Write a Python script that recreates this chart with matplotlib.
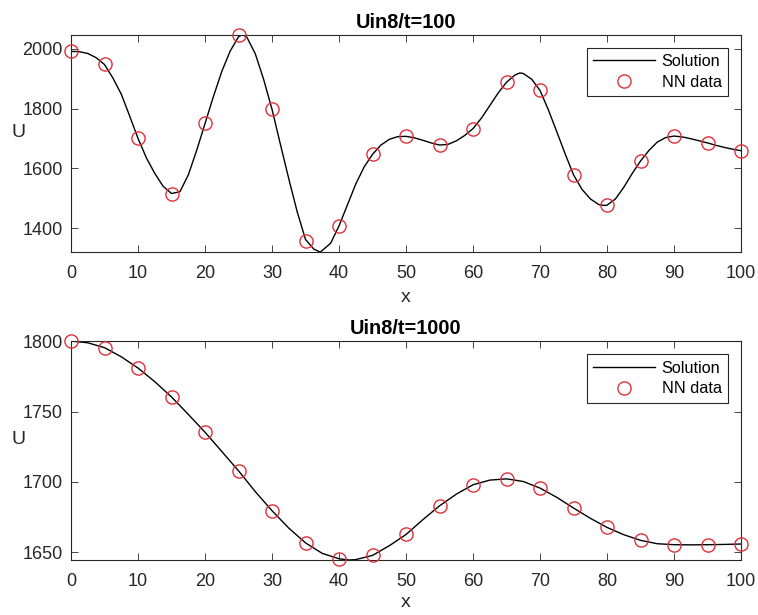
import numpy as np
import matplotlib
matplotlib.use("Agg")
import matplotlib.pyplot as plt

plt.rcParams["font.family"] = ["Liberation Sans", "DejaVu Sans"]

# NN sample positions
x_nn = [0, 5, 10, 15, 20, 25, 30, 35, 40, 45, 50, 55, 60, 65, 70, 75, 80, 85, 90, 95, 100]

# t = 100
nn_t100 = [1993, 1948, 1700, 1515, 1752, 2045, 1797, 1358, 1406, 1647, 1707,
           1677, 1733, 1889, 1862, 1577, 1479, 1624, 1708, 1684, 1658]
sol_x_t100 = [0, 1.25, 2.5, 3.75, 5, 6.25, 7.5, 8.75, 10, 11.25, 12.5, 13.75, 15,
              16.25, 17.5, 18.75, 20, 21.25, 22.5, 23.75, 25, 25.6, 26.25, 27.5,
              28.75, 30, 31.25, 32.5, 33.75, 35, 36.25, 37.2, 38.75, 40, 41.25, 42.5,
              43.75, 45, 46.25, 47.5, 48.75, 50, 51.25, 52.5, 53.75, 55, 56.25, 57.5,
              58.75, 60, 61.25, 62.5, 63.75, 65, 66.25, 67, 67.5, 68.75, 70, 71.25,
              72.5, 73.75, 75, 76.25, 77.5, 78.75, 79.5, 80, 81.25, 82.5, 83.75, 85,
              86.25, 87.5, 88.75, 90, 91.25, 92.5, 93.75, 95, 96.25, 97.5, 98.75, 100]
sol_u_t100 = [1991, 1990, 1984, 1970, 1947, 1902, 1848, 1775, 1700, 1635, 1583, 1540,
              1516, 1522, 1578, 1660, 1750, 1840, 1924, 1992, 2040, 2047, 2038, 1983,
              1897, 1797, 1680, 1565, 1455, 1362, 1330, 1320, 1350, 1408, 1478, 1548,
              1605, 1647, 1678, 1697, 1706, 1707, 1702, 1694, 1685, 1678, 1680, 1692,
              1710, 1733, 1768, 1810, 1852, 1888, 1912, 1919, 1917, 1898, 1860, 1795,
              1722, 1648, 1578, 1530, 1498, 1479, 1476, 1477, 1498, 1537, 1583, 1625,
              1660, 1688, 1703, 1708, 1705, 1699, 1692, 1685, 1677, 1670, 1664, 1659]

# t = 1000
nn_t1000 = [1800, 1795.5, 1780.8, 1760.4, 1735.3, 1707.8, 1679.4, 1656.1, 1645.2,
            1647.6, 1662.5, 1682.9, 1697.9, 1702.1, 1695.5, 1681.3, 1667.5, 1658.3,
            1655.2, 1655.2, 1655.7]
sol_x_t1000 = [0, 2.5, 5, 7.5, 10, 12.5, 15, 17.5, 20, 22.5, 25, 27.5, 30, 32.5, 35,
               37.5, 40, 41.5, 42.5, 45, 47.5, 50, 52.5, 55, 57.5, 60, 62.5, 65, 67.5,
               70, 72.5, 75, 77.5, 80, 82.5, 85, 87.5, 90, 92.5, 95, 97.5, 100]
sol_u_t1000 = [1800.2, 1799, 1795.5, 1789, 1781, 1771.3, 1760.4, 1748, 1735.3, 1721.6,
               1707.8, 1693, 1679.4, 1667, 1656.5, 1649, 1645.2, 1644.3, 1644.6, 1647.6,
               1654.5, 1662.5, 1673, 1682.9, 1691.2, 1697.9, 1701.2, 1702.1, 1700.2,
               1695.5, 1688.9, 1681.3, 1674, 1667.5, 1662.3, 1658.3, 1655.9, 1655.2,
               1655.1, 1655.2, 1655.4, 1655.7]

x_ticks = [0, 10, 20, 30, 40, 50, 60, 70, 80, 90, 100]
y_ticks_t100 = [1400, 1600, 1800, 2000]
y_ticks_t1000 = [1650, 1700, 1750, 1800]

panels = [
    ("Uin8/t=100", sol_x_t100, sol_u_t100, nn_t100, y_ticks_t100, -0.207),
    ("Uin8/t=1000", sol_x_t1000, sol_u_t1000, nn_t1000, y_ticks_t1000, -0.196),
]

AX_GRAY = "#262626"
MARKER_RED = "#e0303a"

fig = plt.figure(figsize=(7.58, 6.15), dpi=100)
rects = [
    [0.0937, 0.590, 0.884, 0.3537],
    [0.0937, 0.0894, 0.884, 0.356],
]

for rect, (title, sx, su, nn, yt, xlab_y) in zip(rects, panels):
    ax = fig.add_axes(rect)
    ax.plot(sx, su, color="black", lw=1.0, label="Solution", zorder=2)
    ax.plot(x_nn, nn, linestyle="none", marker="o", markersize=9.5,
            markerfacecolor="none", markeredgecolor=MARKER_RED,
            markeredgewidth=1.0, label="NN data", zorder=3, clip_on=False)
    ax.set_xlim(0, 100)
    ax.set_ylim(min(su), max(su))
    ax.set_xticks(x_ticks)
    ax.set_yticks(yt)
    ax.tick_params(axis="both", direction="in", top=True, right=True,
                   length=4.8, width=0.6, colors=AX_GRAY, labelsize=13)
    ax.tick_params(axis="x", pad=9)
    ax.tick_params(axis="y", pad=6)
    for sp in ax.spines.values():
        sp.set_color(AX_GRAY)
        sp.set_linewidth(0.8)
    ax.set_title(title, fontsize=14.3, fontweight="bold", color="black", pad=5)
    ax.set_xlabel("x", fontsize=14, color=AX_GRAY, va="center")
    ax.set_ylabel("U", fontsize=14, color=AX_GRAY, rotation=0, va="center", ha="center")
    ax.xaxis.set_label_coords(0.5, xlab_y, transform=ax.transAxes)
    ax.yaxis.set_label_coords(-0.078, 0.55, transform=ax.transAxes)
    leg = ax.legend(loc="upper right", fontsize=11.7, handlelength=3.8,
                    handletextpad=0.4, borderpad=0.4, labelspacing=0.35,
                    borderaxespad=0.8, fancybox=False, framealpha=1)
    leg.get_frame().set_edgecolor(AX_GRAY)
    leg.get_frame().set_linewidth(0.8)

fig.savefig("out.png", dpi=100)
